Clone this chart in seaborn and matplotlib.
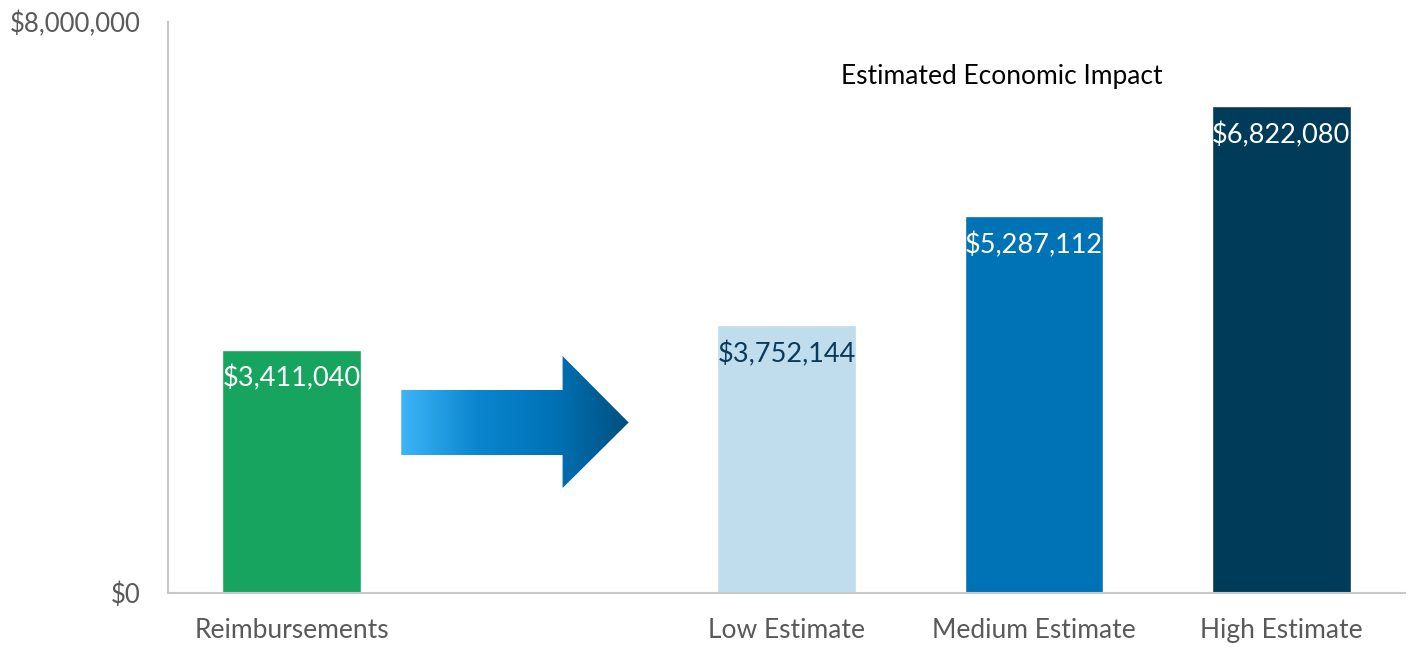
import numpy as np
import pandas as pd
import matplotlib
matplotlib.use("Agg")
import matplotlib.pyplot as plt
import seaborn as sns
from matplotlib.path import Path
from matplotlib.patches import PathPatch
from matplotlib.colors import LinearSegmentedColormap

categories = ["Reimbursements", "Low Estimate", "Medium Estimate", "High Estimate"]
order = ["Reimbursements", "", "Low Estimate", "Medium Estimate", "High Estimate"]
values = [3411040, 3752144, 5287112, 6822080]
bar_colors = ["#17A45F", "#BFDDED", "#0073B7", "#003C5A"]
label_colors = ["white", "#0B3A5A", "white", "white"]
title_text = "Estimated Economic Impact"

sns.set_theme(style="white")
plt.rcParams["font.family"] = ["Lato", "DejaVu Sans"]

fig = plt.figure(figsize=(14.13, 6.5), dpi=100)
ax = fig.add_axes([0.1189, 0.0877, 0.8754, 0.8785])

df = pd.DataFrame({"cat": categories, "val": values})
sns.barplot(data=df, x="cat", y="val", hue="cat", order=order, hue_order=categories,
            palette=bar_colors, width=0.56, legend=False, saturation=1, ax=ax)

ax.set_ylim(0, 8000000)
ax.set_xlim(-0.5, len(order) - 0.5)
ax.set_yticks([0, 8000000])
ax.set_yticklabels(["$0", "$8,000,000"])
ax.set_xlabel("")
ax.set_ylabel("")
ax.tick_params(axis="y", labelsize=18.5, labelcolor="#595959", length=0, pad=20)
ax.tick_params(axis="x", labelsize=19, labelcolor="#595959", length=0, pad=18)

for s in ["top", "right"]:
    ax.spines[s].set_visible(False)
for s in ["left", "bottom"]:
    ax.spines[s].set_color("#C8C8C8")
    ax.spines[s].set_linewidth(1.5)

# value labels
for cat, v, lc in zip(categories, values, label_colors):
    xi = order.index(cat)
    ax.annotate(f"${v:,.0f}", xy=(xi, v), xytext=(0, -21), textcoords="offset points",
                ha="center", va="center", fontsize=19.5, color=lc)

# title
ax.text(2.87, 7230000, title_text, ha="center", va="center", fontsize=19, color="black")

# gradient arrow in the empty slot
xc = order.index("")
x0, x1, x2 = xc - 0.557, xc + 0.095, xc + 0.362
yb0, yb1 = 1933000, 2844000
yh0, yh1 = 1471000, 3320000
ym = (yb0 + yb1) / 2
verts = [(x0, yb0), (x1, yb0), (x1, yh0), (x2, ym), (x1, yh1), (x1, yb1), (x0, yb1), (x0, yb0)]
codes = [Path.MOVETO] + [Path.LINETO] * 6 + [Path.CLOSEPOLY]
path = Path(verts, codes)
patch = PathPatch(path, facecolor="none", edgecolor="none")
ax.add_patch(patch)
cmap = LinearSegmentedColormap.from_list("arr", ["#3DB5F7", "#0A86CF", "#0072B6", "#00507F"])
grad = np.linspace(0, 1, 256).reshape(1, -1)
im = ax.imshow(grad, cmap=cmap, aspect="auto", extent=[x0, x2, yh0, yh1],
               origin="lower", zorder=3, interpolation="bilinear")
im.set_clip_path(patch)
ax.set_xlim(-0.5, len(order) - 0.5)
ax.set_ylim(0, 8000000)

fig.savefig("out.png", dpi=100)
